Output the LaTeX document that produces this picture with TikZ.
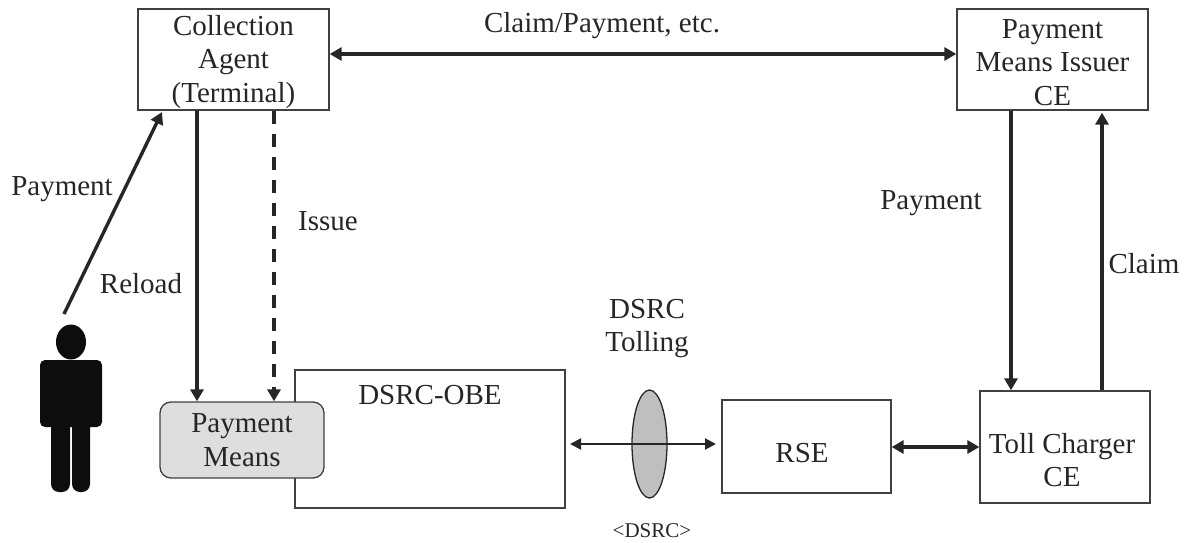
\documentclass[tikz,border=0pt]{standalone}
\usepackage{fontspec}
\setmainfont{Liberation Serif}
\usetikzlibrary{arrows.meta}
\usetikzlibrary{shapes.geometric}

\newcommand{\firstline}[1]{\rule{0pt}{#1}}

\tikzset{
    plainbox/.style={draw=black!75, line width=1.3pt, align=center, inner sep=0pt, text=black!85},
    txt/.style={align=center, inner sep=0pt, text=black!85, anchor=base},
    link/.style={draw=black!85, line width=3.4pt, -{Triangle[length=12pt,width=13pt]}},
    biglink/.style={draw=black!85, line width=3.4pt, {Triangle[length=12pt,width=13pt]}-{Triangle[length=12pt,width=13pt]}},
    thinlink/.style={draw=black!85, line width=2pt, {Triangle[length=11pt,width=11pt]}-{Triangle[length=11pt,width=11pt]}}
}

\begin{document}
\begin{tikzpicture}[x=1pt, y=-1pt, font=\fontsize{29}{33.5}\selectfont]
    \useasboundingbox (0,0) rectangle (1187,543);

    \node[plainbox, minimum width=191pt, minimum height=101pt] (agent) at (233.5,59.5) {\firstline{25pt}Collection\\Agent\\(Terminal)};
    \node[plainbox, minimum width=191pt, minimum height=101pt] (issuer) at (1052.5,59.5) {\firstline{25pt}Payment\\Means Issuer\\CE};
    \node[plainbox, minimum width=270pt, minimum height=138pt] (obe) at (430,439) {};
    \node[txt] (obetext) at (430,404) {DSRC-OBE};
    \node[plainbox, rounded corners=11pt, fill=black!13, minimum width=164pt, minimum height=76pt] (means) at (242,440) {Payment\\Means};
    \node[plainbox, minimum width=169pt, minimum height=93pt] (rse) at (806.5,446.5) {};
    \node[txt] (rsetext) at (802,462) {RSE};
    \node[plainbox, minimum width=170pt, minimum height=112pt] (charger) at (1065,447) {};
    \node[txt] (chargertext) at (1062,453) {Toll Charger};
    \node[txt] (cetext) at (1062,486) {CE};
    \node[ellipse, draw=black!85, line width=1.3pt, fill=black!25, minimum width=35pt, minimum height=108pt, inner sep=0pt] (lens) at (649.5,444) {};

    % person
    \fill[black!95] (71,342) ellipse (15 and 17.5);
    \fill[black!95, rounded corners=5pt] (40,360) rectangle (102,427);
    \fill[black!95, rounded corners=8pt] (51,400) rectangle (70,492);
    \fill[black!95, rounded corners=8pt] (72,400) rectangle (90,492);
    \coordinate (person) at (64,314);
    \coordinate (agentport) at (162,112);

    \coordinate (obeport) at (570,444);
    \coordinate (rseport) at (716,444);
    \draw[thinlink] (obeport) -- (rseport);

    \draw[biglink] (agent.east |- 0,54) -- (issuer.west |- 0,54);
    \draw[link] (person) -- (agentport);
    \draw[link] (197,0 |- agent.south) -- (197,0 |- means.north);
    \draw[link, dash pattern=on 13pt off 10pt] (274,0 |- agent.south) -- (274,0 |- means.north);
    \draw[link] (1011,0 |- issuer.south) -- (1011,0 |- charger.north);
    \draw[link, shorten >=2pt] (1102,0 |- charger.north) -- (1102,0 |- issuer.south);
    \draw[biglink] (rse.east |- 0,447) -- (charger.west |- 0,447);

    \node[txt] (clm) at (602,33) {Claim/Payment, etc.};
    \node[txt] (pay) at (62,195) {Payment};
    \node[txt] (reload) at (141,293) {Reload};
    \node[txt] (issue) at (328,230) {Issue};
    \node[txt] (dsrctext) at (647,318) {DSRC};
    \node[txt] (tolling) at (647,351) {Tolling};
    \node[txt, font=\fontsize{21}{24}\selectfont] (dsrc) at (652,537) {<DSRC>};
    \node[txt] (pay2) at (931,209) {Payment};
    \node[txt] (claim) at (1144,273) {Claim};
\end{tikzpicture}
\end{document}
